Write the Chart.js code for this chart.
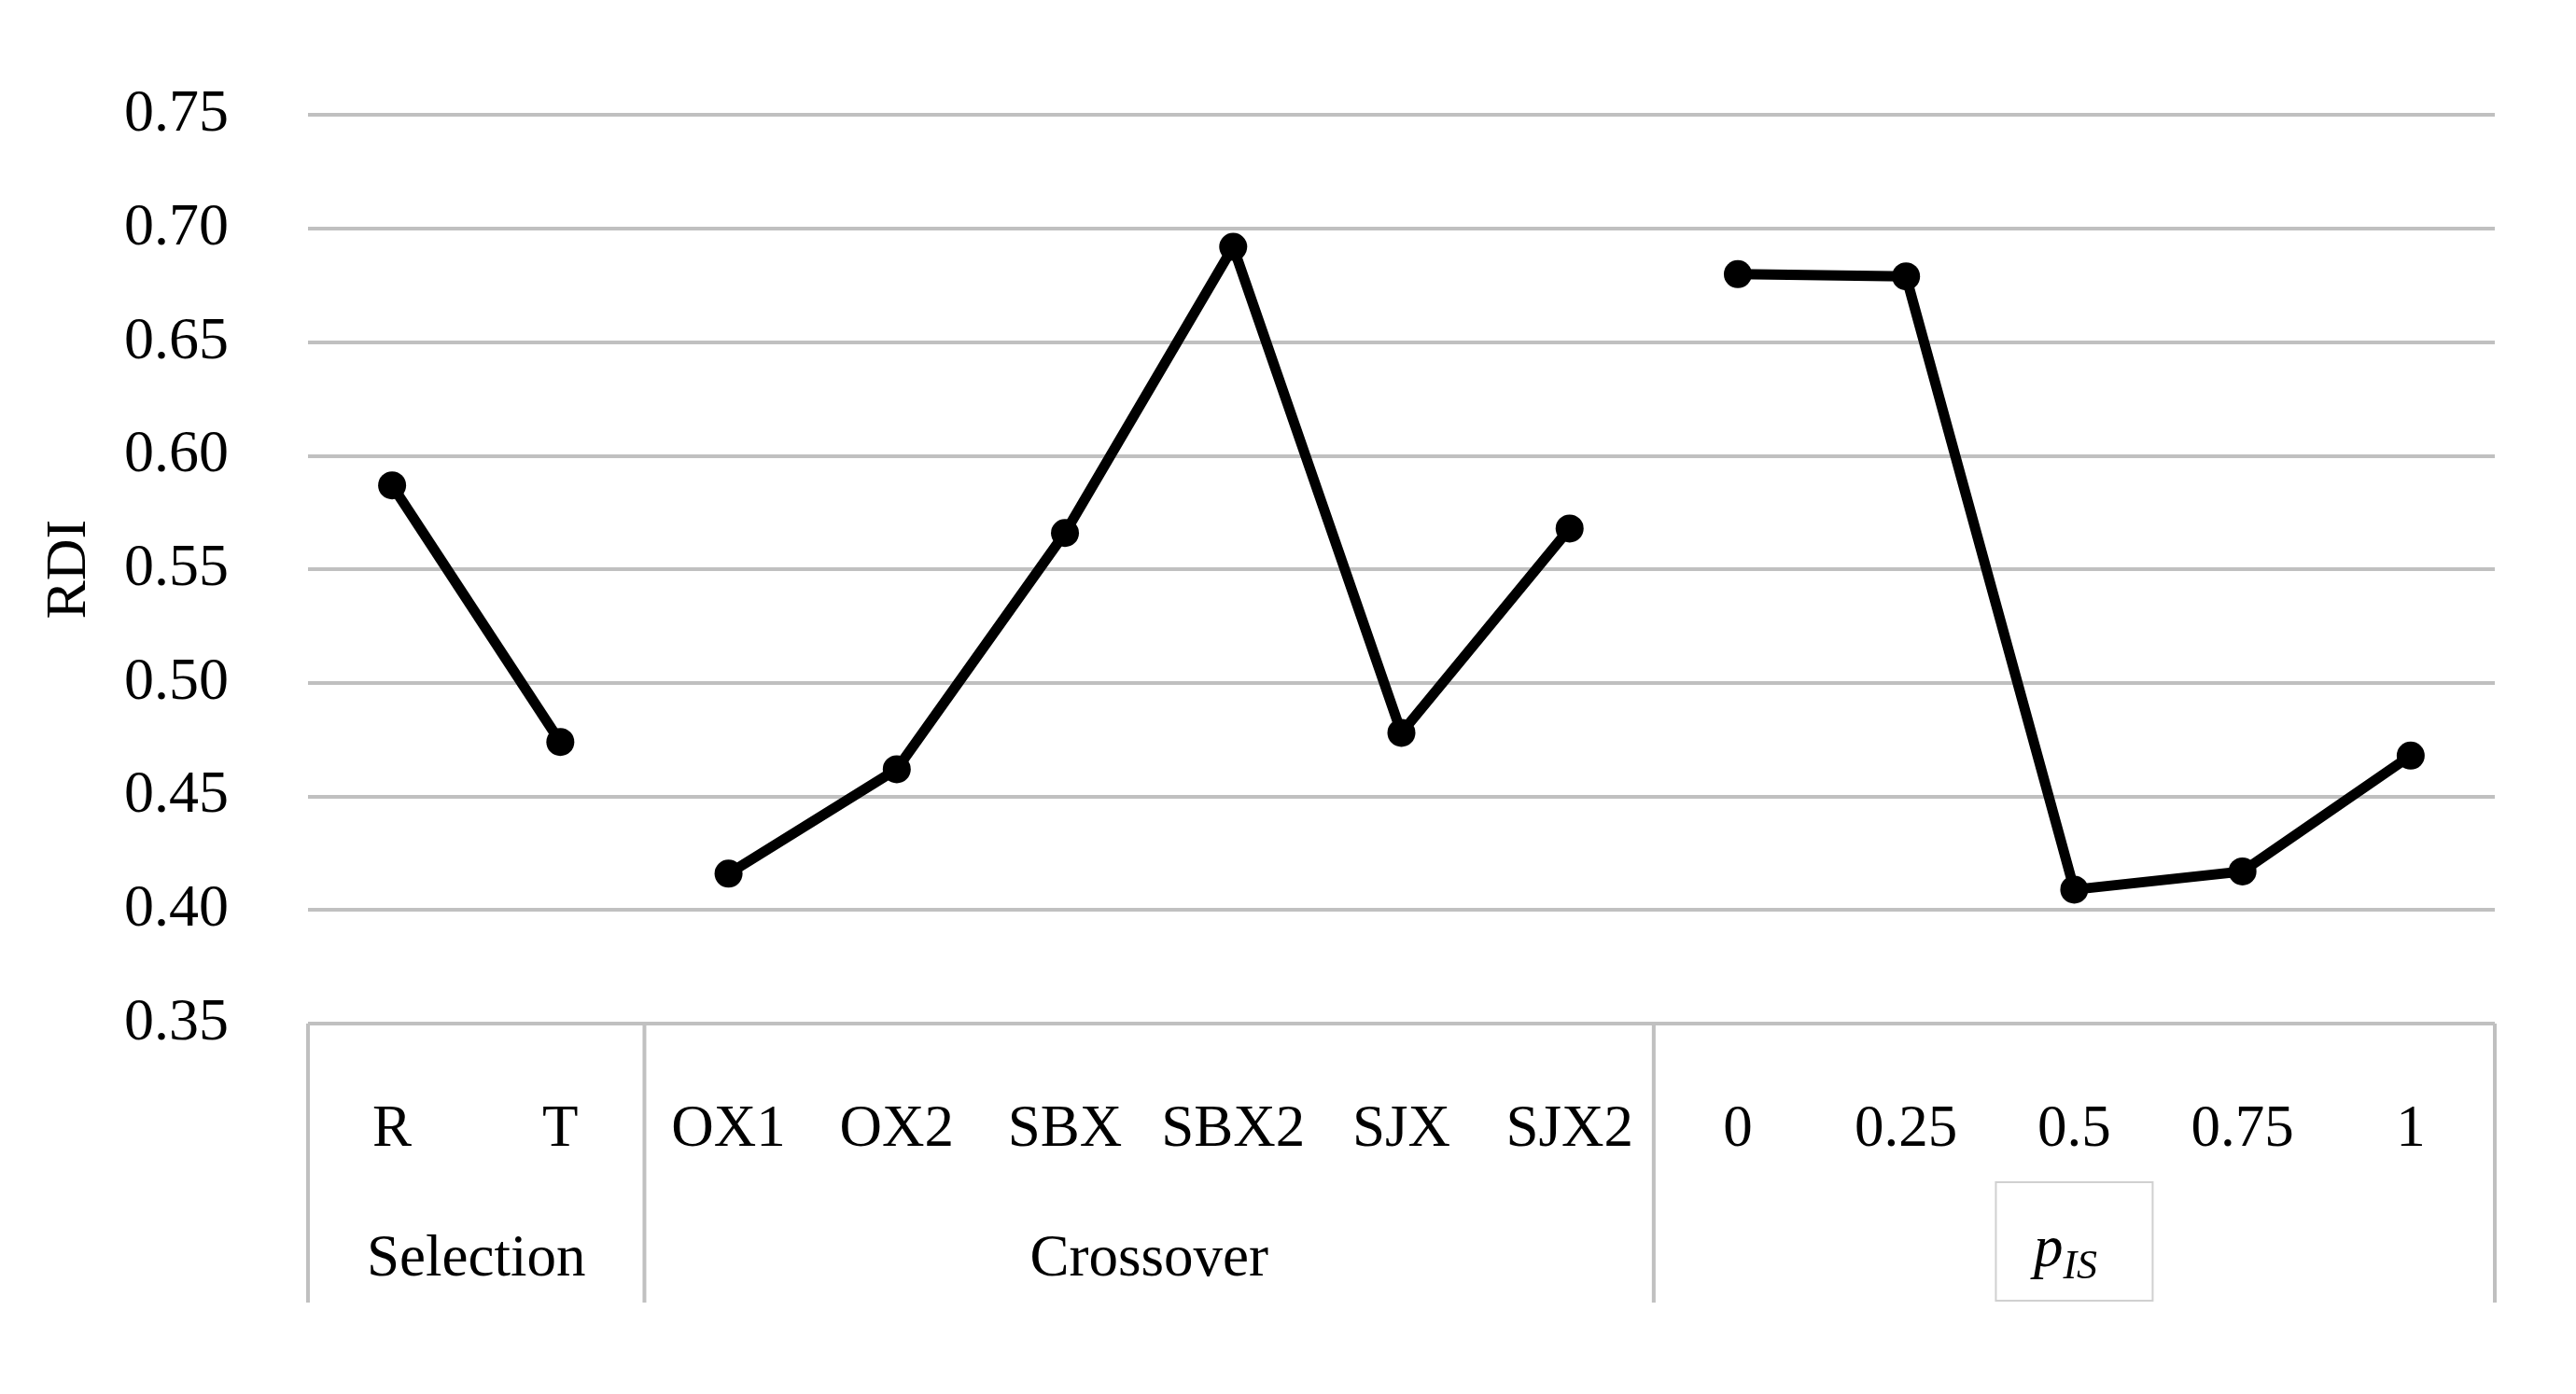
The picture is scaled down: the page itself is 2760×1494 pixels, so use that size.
<!DOCTYPE html>
<html>
<head>
<meta charset="utf-8">
<script src="https://cdn.jsdelivr.net/npm/chart.js@4"></script>
<style>
  html, body { margin: 0; padding: 0; background: #fff; }
  #wrap { width: 2760px; height: 1494px; }
</style>
</head>
<body>
<div id="wrap"><canvas id="chart"></canvas></div>
<script>
const categories = ["R", "T", "OX1", "OX2", "SBX", "SBX2", "SJX", "SJX2", "0", "0.25", "0.5", "0.75", "1"];
// null breaks the line between groups
const rdiValues = [0.587, 0.474, null, null, null, null, null, null, null, null, null, null, null];
const crossoverValues = [null, null, 0.416, 0.462, 0.566, 0.692, 0.478, 0.568, null, null, null, null, null];
const pisValues = [null, null, null, null, null, null, null, null, 0.680, 0.679, 0.409, 0.417, 0.468];
const groups = [
  { label: "Selection", from: 0, to: 1 },
  { label: "Crossover", from: 2, to: 7 },
  { label: "pIS", from: 8, to: 12 }
];
const yTicks = [0.35, 0.40, 0.45, 0.50, 0.55, 0.60, 0.65, 0.70, 0.75];

const fontFamily = "'Liberation Serif', 'DejaVu Serif', serif";
const gridGray = "#c0c0c0";

// Draws category labels, group labels and separators under the plot
const groupAxis = {
  id: "groupAxis",
  afterDraw(chart) {
    const ctx = chart.ctx;
    const x = chart.scales.x;
    const area = chart.chartArea;
    const half = (x.getPixelForValue(1) - x.getPixelForValue(0)) / 2;
    const catY = area.bottom + 114;
    const grpY = area.bottom + 253;
    const lineBottom = area.bottom + 299;
    ctx.save();
    ctx.fillStyle = "#000";
    ctx.textAlign = "center";
    ctx.textBaseline = "middle";
    ctx.font = "63px " + fontFamily;
    categories.forEach((c, i) => ctx.fillText(c, x.getPixelForValue(i), catY));
    ctx.strokeStyle = gridGray;
    ctx.lineWidth = 4;
    groups.forEach((g, gi) => {
      const left = x.getPixelForValue(g.from) - half;
      const right = x.getPixelForValue(g.to) + half;
      ctx.beginPath();
      ctx.moveTo(left, area.bottom);
      ctx.lineTo(left, lineBottom);
      if (gi === groups.length - 1) {
        ctx.moveTo(right, area.bottom);
        ctx.lineTo(right, lineBottom);
      }
      ctx.stroke();
      const cx = (left + right) / 2;
      if (g.label === "pIS") {
        ctx.lineWidth = 2;
        ctx.strokeStyle = "#d0d0d0";
        ctx.strokeRect(cx - 84, area.bottom + 170, 168, 127);
        ctx.font = "italic 63px " + fontFamily;
        ctx.textAlign = "right";
        ctx.fillText("p", cx - 12, grpY - 10);
        ctx.font = "italic 44px " + fontFamily;
        ctx.textAlign = "left";
        ctx.fillText("IS", cx - 12, grpY + 8);
        ctx.textAlign = "center";
        ctx.strokeStyle = gridGray;
        ctx.lineWidth = 4;
      } else {
        ctx.font = "63px " + fontFamily;
        ctx.fillText(g.label, cx, grpY);
      }
    });
    ctx.restore();
  }
};

const seriesStyle = {
  borderColor: "#000",
  backgroundColor: "#000",
  borderWidth: 11,
  pointRadius: 15,
  pointBorderWidth: 0,
  pointHoverRadius: 15,
  spanGaps: false,
  tension: 0
};

new Chart(document.getElementById("chart"), {
  type: "line",
  data: {
    labels: categories,
    datasets: [
      { label: "Selection", data: rdiValues, ...seriesStyle },
      { label: "Crossover", data: crossoverValues, ...seriesStyle },
      { label: "pIS", data: pisValues, ...seriesStyle }
    ]
  },
  options: {
    responsive: true,
    maintainAspectRatio: false,
    animation: false,
    layout: { padding: { top: 97, right: 87, bottom: 389, left: 38 } },
    plugins: { legend: { display: false }, tooltip: { enabled: false } },
    scales: {
      x: {
        offset: true,
        ticks: { display: false },
        grid: { display: false },
        border: { display: false }
      },
      y: {
        min: 0.35,
        max: 0.75,
        afterBuildTicks: (scale) => { scale.ticks = yTicks.map((v) => ({ value: v })); },
        afterFit: (scale) => { scale.width = 292; },
        ticks: {
          color: "#000",
          font: { family: fontFamily, size: 64 },
          padding: 85,
          callback: (v) => Number(v).toFixed(2)
        },
        grid: { color: gridGray, lineWidth: 4, drawTicks: false },
        border: { display: false },
        title: {
          display: true,
          text: "RDI",
          color: "#000",
          font: { family: fontFamily, size: 62 },
          padding: 0
        }
      }
    }
  },
  plugins: [groupAxis]
});
</script>
</body>
</html>
